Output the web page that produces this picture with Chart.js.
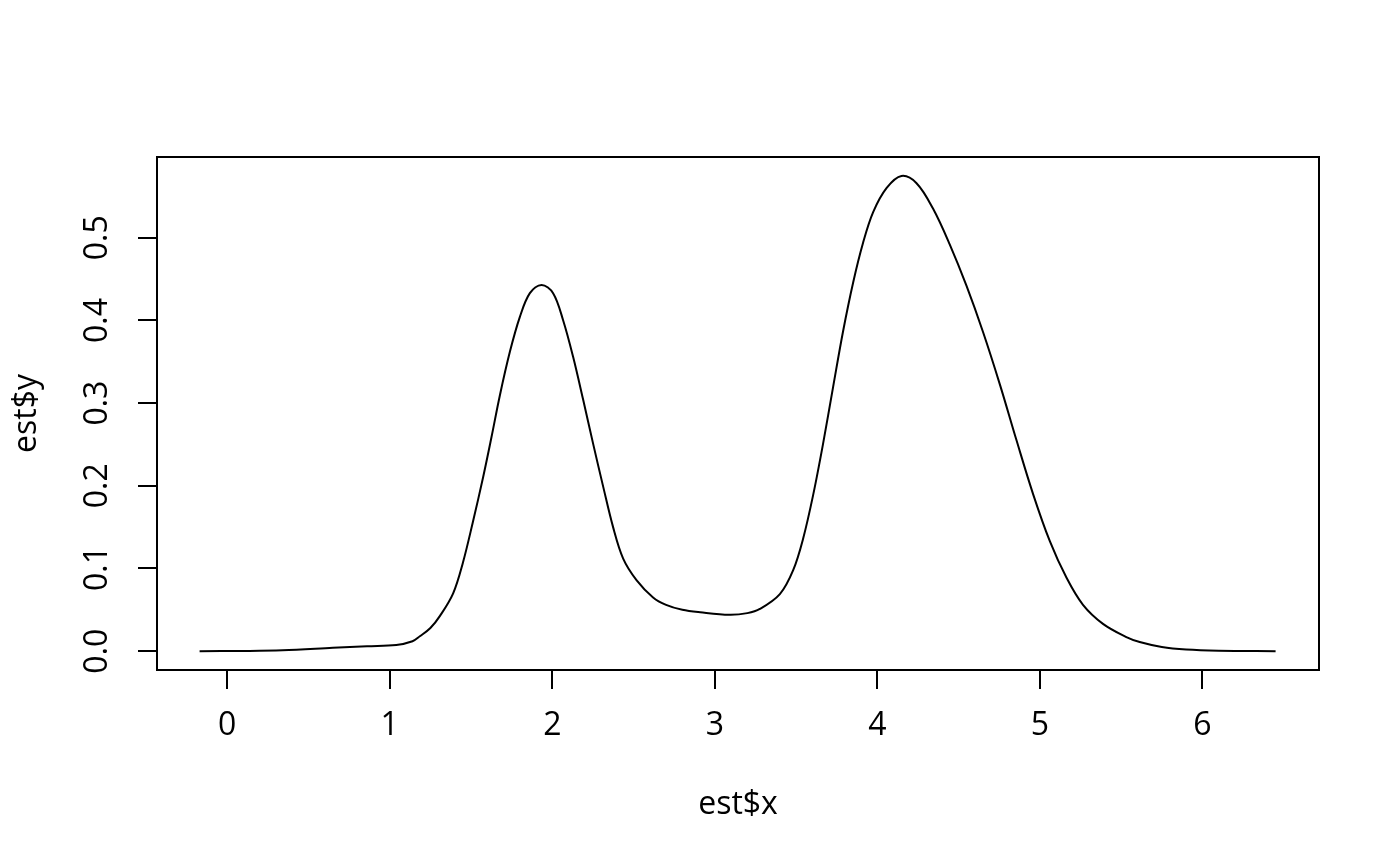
<!DOCTYPE html>
<html>
<head>
<meta charset="utf-8">
<script src="https://cdn.jsdelivr.net/npm/chart.js@4/dist/chart.umd.min.js"></script>
<style>
  html, body { margin: 0; padding: 0; background: #ffffff; }
  #wrap { width: 1400px; height: 866px; position: relative; }
</style>
</head>
<body>
<div id="wrap"><canvas id="c" width="1400" height="866"></canvas></div>
<script>
// ---- data (kernel density estimate) ----
const estX = [-0.17, 0.10, 0.34, 0.65, 0.86, 1.04, 1.14, 1.185, 1.25, 1.31, 1.39, 1.45, 1.51, 1.575, 1.626,
  1.677, 1.739, 1.80, 1.862, 1.934, 2.005, 2.067, 2.128, 2.19, 2.251, 2.313, 2.374, 2.436, 2.518, 2.62,
  2.70, 2.80, 2.91, 3.09, 3.20, 3.277, 3.40, 3.482, 3.543, 3.605, 3.666, 3.728, 3.789, 3.851, 3.912,
  3.974, 4.056, 4.148, 4.241, 4.343, 4.445, 4.548, 4.650, 4.753, 4.856, 4.958, 5.061, 5.163, 5.265,
  5.388, 5.532, 5.614, 5.75, 5.90, 6.10, 6.45];
const estY = [0.000, 0.0002, 0.001, 0.004, 0.006, 0.0075, 0.012, 0.018, 0.028, 0.043, 0.070, 0.107, 0.155, 0.211, 0.259,
  0.309, 0.362, 0.404, 0.433, 0.443, 0.433, 0.400, 0.356, 0.304, 0.251, 0.199, 0.150, 0.112, 0.086, 0.065,
  0.056, 0.050, 0.047, 0.044, 0.046, 0.051, 0.069, 0.098, 0.136, 0.189, 0.251, 0.320, 0.387, 0.446, 0.494,
  0.531, 0.560, 0.5747, 0.566, 0.535, 0.492, 0.442, 0.386, 0.323, 0.255, 0.190, 0.133, 0.089, 0.056,
  0.033, 0.017, 0.011, 0.005, 0.002, 0.0006, 0.000];
const xTicks = [0, 1, 2, 3, 4, 5, 6];
const yTicks = [0.0, 0.1, 0.2, 0.3, 0.4, 0.5];
const xTitle = 'est$x';
const yTitle = 'est$y';

const points = estX.map((x, i) => ({ x: x, y: estY[i] }));
const FONT = '"Open Sans", "Noto Sans", "DejaVu Sans", sans-serif';

const boxPlugin = {
  id: 'boxFrame',
  afterDraw(chart) {
    const a = chart.chartArea, ctx = chart.ctx;
    ctx.save();
    ctx.strokeStyle = '#000';
    ctx.lineWidth = 2;
    ctx.strokeRect(a.left, a.top, a.right - a.left, a.bottom - a.top);
    ctx.restore();
  }
};

new Chart(document.getElementById('c'), {
  type: 'scatter',
  data: {
    datasets: [{
      data: points,
      showLine: true,
      borderColor: '#000',
      borderWidth: 2,
      pointRadius: 0,
      pointHoverRadius: 0,
      fill: false,
      tension: 0.35
    }]
  },
  options: {
    responsive: false,
    animation: false,
    devicePixelRatio: 1,
    layout: { padding: { left: 0, top: 157, right: 81, bottom: 0 } },
    plugins: { legend: { display: false }, tooltip: { enabled: false } },
    scales: {
      x: {
        type: 'linear',
        min: -0.432,
        max: 6.717,
        afterBuildTicks(scale) { scale.ticks = xTicks.map(v => ({ value: v })); },
        afterFit(scale) { scale.height = 196; },
        grid: { drawOnChartArea: false, drawTicks: true, tickLength: 19, color: '#000', lineWidth: 2 },
        border: { display: false },
        ticks: {
          autoSkip: false, maxRotation: 0, minRotation: 0, padding: 18,
          color: '#000', font: { family: FONT, size: 32 },
          callback: (v) => String(v)
        },
        title: {
          display: true, text: xTitle, color: '#000',
          font: { family: FONT, size: 32 },
          padding: { top: 0, bottom: 42 }
        }
      },
      y: {
        type: 'linear',
        min: -0.0228,
        max: 0.5977,
        afterBuildTicks(scale) { scale.ticks = yTicks.map(v => ({ value: v })); },
        afterFit(scale) { scale.width = 157; },
        grid: { drawOnChartArea: false, drawTicks: true, tickLength: 19, color: '#000', lineWidth: 2 },
        border: { display: false },
        ticks: {
          autoSkip: false, minRotation: 90, maxRotation: 90, crossAlign: 'center', padding: 18,
          color: '#000', font: { family: FONT, size: 32 },
          callback: (v) => Number(v).toFixed(1)
        },
        title: {
          display: true, text: yTitle, color: '#000',
          font: { family: FONT, size: 32 },
          padding: { top: 8, bottom: 0 }
        }
      }
    }
  },
  plugins: [boxPlugin]
});
</script>
</body>
</html>
